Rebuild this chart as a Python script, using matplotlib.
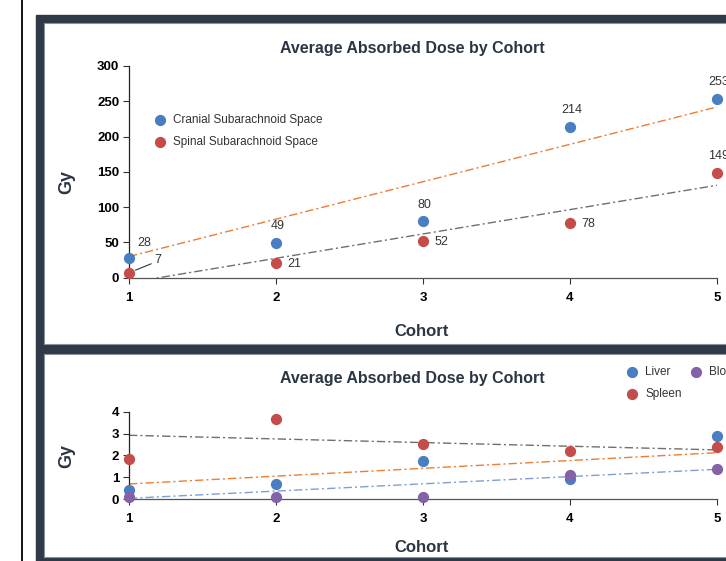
import matplotlib.pyplot as plt
from matplotlib.patches import Rectangle
from matplotlib.lines import Line2D

plt.rcParams['font.family'] = 'Liberation Sans'

W, H = 726, 561

# top chart
cohorts = [1, 2, 3, 4, 5]
cranial = [28, 49, 80, 214, 253]
spinal = [7, 21, 52, 78, 149]
trend_x = [1, 5]
cranial_trend = [30, 242]
spinal_trend = [-7, 131]

# bottom chart
liver = [0.41, 0.69, 1.76, 0.90, 2.89]
spleen = [1.85, 3.67, 2.52, 2.22, 2.38]
blood = [0.08, 0.08, 0.09, 1.10, 1.38]
liver_trend = [0.69, 2.12]
spleen_trend = [2.92, 2.25]
blood_trend = [0.03, 1.36]

BLUE = '#4a7ec2'
RED = '#c44c4a'
PURPLE = '#8462a8'
ORANGE = '#ed7d31'
LIGHTBLUE = '#7f9fd0'
FRAME = '#2e3a48'
TXT = '#2b3643'
DASHDOT = (0, (6, 2.2, 1.5, 2.2))


def fx(px):
    return px / W


def fy(py):
    return 1 - py / H


fig = plt.figure(figsize=(W / 100, H / 100), dpi=100)
fig.patch.set_facecolor('white')

# dark frame round the two panels
fig.add_artist(Rectangle((fx(36), fy(575)), 1, fy(15) - fy(575), color=FRAME, zorder=-3))
fig.add_artist(Rectangle((fx(44), fy(344)), 1, fy(23) - fy(344), facecolor='white',
                         edgecolor='#8a939c', lw=0.8, zorder=-2))
fig.add_artist(Rectangle((fx(44), fy(557)), 1, fy(354) - fy(557), facecolor='white',
                         edgecolor='#8a939c', lw=0.8, zorder=-2))
fig.add_artist(Line2D([fx(22), fx(22)], [0, 1], color='black', lw=1.3))


def style_axes(ax, ymax, ystep):
    ax.set_facecolor('none')
    ax.set_xlim(1, 5)
    ax.set_ylim(0, ymax)
    ax.set_xticks(cohorts)
    ax.set_yticks(range(0, ymax + 1, ystep))
    for s in ['top', 'right']:
        ax.spines[s].set_visible(False)
    ax.spines['left'].set_color('#222222')
    ax.spines['bottom'].set_color('#555555')
    ax.spines['left'].set_linewidth(0.9)
    ax.spines['bottom'].set_linewidth(0.9)
    ax.tick_params(axis='both', direction='out', length=4, width=0.8, color='#333333',
                   labelsize=9.5, labelcolor='black')
    ax.tick_params(axis='x', pad=6)
    ax.tick_params(axis='y', pad=3)
    for lab in ax.get_xticklabels() + ax.get_yticklabels():
        lab.set_fontweight('bold')


# ---- top panel ----
ax1 = fig.add_axes([fx(129), fy(277.7), fx(717) - fx(129), fy(66) - fy(277.7)])
style_axes(ax1, 300, 50)

ax1.plot(trend_x, cranial_trend, color=ORANGE, lw=1, ls=DASHDOT)
ax1.plot(trend_x, spinal_trend, color='#6f6f6f', lw=1, ls=DASHDOT)
ax1.scatter(cohorts, cranial, s=50, color=BLUE, zorder=3, clip_on=False,
            label='Cranial Subarachnoid Space')
ax1.scatter(cohorts, spinal, s=50, color=RED, zorder=3, clip_on=False,
            label='Spinal Subarachnoid Space')

lab_kw = dict(textcoords='offset points', fontsize=9, color='#333333', annotation_clip=False)
for x, v in zip(cohorts, cranial):
    if x == 1:
        ax1.annotate(str(v), (x, v), xytext=(6, 11), ha='left', va='center', **lab_kw)
    else:
        ax1.annotate(str(v), (x, v), xytext=(1, 12), ha='center', va='center', **lab_kw)
for x, v in zip(cohorts, spinal):
    if x == 1:
        ax1.annotate(str(v), (x, v), xytext=(18, 9), ha='left', va='center',
                     arrowprops=dict(arrowstyle='-', color='#333333', lw=0.8,
                                     shrinkA=0, shrinkB=5, relpos=(0, 0.3)), **lab_kw)
    elif x == 5:
        ax1.annotate(str(v), (x, v), xytext=(1, 12), ha='center', va='center', **lab_kw)
    else:
        ax1.annotate(str(v), (x, v), xytext=(8, -1), ha='left', va='center', **lab_kw)

ax1.legend(loc='upper left', bbox_to_anchor=(fx(153), fy(114)), bbox_transform=fig.transFigure,
           frameon=False, fontsize=8.5, handletextpad=0.5, labelspacing=0.85, borderpad=0,
           borderaxespad=0, handlelength=1.2, scatterpoints=1, labelcolor='#333333')

fig.text(fx(412), fy(48), 'Average Absorbed Dose by Cohort', ha='center', va='center',
         fontsize=11.5, fontweight='bold', color=TXT)
fig.text(fx(67), fy(182), 'Gy', rotation=90, ha='center', va='center',
         fontsize=13, fontweight='bold', color=TXT)
fig.text(fx(422), fy(331), 'Cohort', ha='center', va='center',
         fontsize=12, fontweight='bold', color=TXT)

# ---- bottom panel ----
ax2 = fig.add_axes([fx(129), fy(499), fx(717) - fx(129), fy(411.7) - fy(499)])
style_axes(ax2, 4, 1)

ax2.plot(trend_x, spleen_trend, color='#6f6f6f', lw=1, ls=DASHDOT)
ax2.plot(trend_x, liver_trend, color=ORANGE, lw=1, ls=DASHDOT)
ax2.plot(trend_x, blood_trend, color=LIGHTBLUE, lw=1, ls=DASHDOT)
h_liver = ax2.scatter(cohorts, liver, s=50, color=BLUE, zorder=3, clip_on=False, label='Liver')
h_spleen = ax2.scatter(cohorts, spleen, s=50, color=RED, zorder=3, clip_on=False, label='Spleen')
h_blood = ax2.scatter(cohorts, blood, s=50, color=PURPLE, zorder=3, clip_on=False, label='Blood')

ax2.legend(handles=[h_liver, h_spleen, h_blood], loc='upper left',
           bbox_to_anchor=(fx(625), fy(366)), bbox_transform=fig.transFigure, ncol=2,
           frameon=False, fontsize=8.5, handletextpad=0.5, labelspacing=0.85, borderpad=0,
           borderaxespad=0, handlelength=1.2, columnspacing=0.6, scatterpoints=1,
           labelcolor='#333333')

fig.text(fx(412), fy(378), 'Average Absorbed Dose by Cohort', ha='center', va='center',
         fontsize=11.5, fontweight='bold', color=TXT)
fig.text(fx(67), fy(456), 'Gy', rotation=90, ha='center', va='center',
         fontsize=13, fontweight='bold', color=TXT)
fig.text(fx(422), fy(547), 'Cohort', ha='center', va='center',
         fontsize=12, fontweight='bold', color=TXT)

fig.savefig('out.png', dpi=100)
